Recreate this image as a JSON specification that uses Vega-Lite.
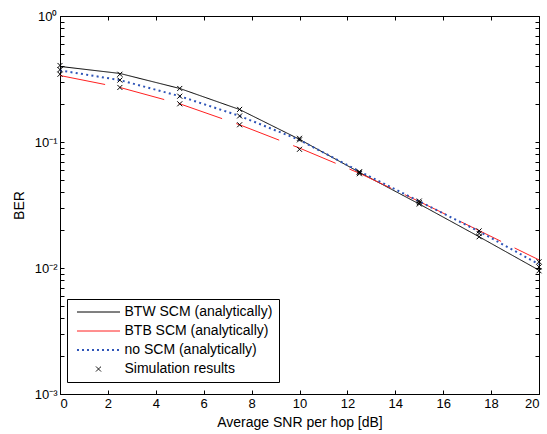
{
  "$schema": "https://vega.github.io/schema/vega-lite/v6.json",
  "width": 479,
  "height": 378,
  "autosize": {"type": "none"},
  "padding": {"left": 60, "top": 16, "right": 8, "bottom": 40},
  "background": "white",
  "config": {
    "view": {"stroke": "black", "strokeWidth": 1},
    "font": "Liberation Sans",
    "axis": {
      "domainColor": "black",
      "tickColor": "black",
      "labelColor": "black",
      "titleColor": "black",
      "labelFont": "Liberation Sans",
      "titleFont": "Liberation Sans",
      "labelFontSize": 13,
      "titleFontSize": 14,
      "titleFontWeight": "normal",
      "grid": false,
      "tickSize": -4,
      "labelPadding": 7
    }
  },
  "datasets": {
    "analytic": [
      {"series": "BTW SCM (analytically)", "snr": 0, "ber": 0.398},
      {"series": "BTW SCM (analytically)", "snr": 2.5, "ber": 0.350},
      {"series": "BTW SCM (analytically)", "snr": 5, "ber": 0.266},
      {"series": "BTW SCM (analytically)", "snr": 7.5, "ber": 0.181},
      {"series": "BTW SCM (analytically)", "snr": 10, "ber": 0.105},
      {"series": "BTW SCM (analytically)", "snr": 12.5, "ber": 0.0575},
      {"series": "BTW SCM (analytically)", "snr": 15, "ber": 0.0322},
      {"series": "BTW SCM (analytically)", "snr": 17.5, "ber": 0.0177},
      {"series": "BTW SCM (analytically)", "snr": 20, "ber": 0.0096},
      {"series": "BTB SCM (analytically)", "snr": 0, "ber": 0.337},
      {"series": "BTB SCM (analytically)", "snr": 2.5, "ber": 0.271},
      {"series": "BTB SCM (analytically)", "snr": 5, "ber": 0.201},
      {"series": "BTB SCM (analytically)", "snr": 7.5, "ber": 0.137},
      {"series": "BTB SCM (analytically)", "snr": 10, "ber": 0.0895},
      {"series": "BTB SCM (analytically)", "snr": 12.5, "ber": 0.0565},
      {"series": "BTB SCM (analytically)", "snr": 15, "ber": 0.0337},
      {"series": "BTB SCM (analytically)", "snr": 17.5, "ber": 0.0198},
      {"series": "BTB SCM (analytically)", "snr": 20, "ber": 0.0116},
      {"series": "no SCM (analytically)", "snr": 0, "ber": 0.370},
      {"series": "no SCM (analytically)", "snr": 2.5, "ber": 0.310},
      {"series": "no SCM (analytically)", "snr": 5, "ber": 0.231},
      {"series": "no SCM (analytically)", "snr": 7.5, "ber": 0.161},
      {"series": "no SCM (analytically)", "snr": 10, "ber": 0.1037},
      {"series": "no SCM (analytically)", "snr": 12.5, "ber": 0.0585},
      {"series": "no SCM (analytically)", "snr": 15, "ber": 0.0338},
      {"series": "no SCM (analytically)", "snr": 17.5, "ber": 0.0195},
      {"series": "no SCM (analytically)", "snr": 20, "ber": 0.0107}
    ],
    "sim": [
      {"series": "Simulation results", "snr": 0, "ber": 0.405},
      {"series": "Simulation results", "snr": 0, "ber": 0.375},
      {"series": "Simulation results", "snr": 0, "ber": 0.345},
      {"series": "Simulation results", "snr": 2.5, "ber": 0.345},
      {"series": "Simulation results", "snr": 2.5, "ber": 0.310},
      {"series": "Simulation results", "snr": 2.5, "ber": 0.271},
      {"series": "Simulation results", "snr": 5, "ber": 0.266},
      {"series": "Simulation results", "snr": 5, "ber": 0.231},
      {"series": "Simulation results", "snr": 5, "ber": 0.201},
      {"series": "Simulation results", "snr": 7.5, "ber": 0.1815},
      {"series": "Simulation results", "snr": 7.5, "ber": 0.161},
      {"series": "Simulation results", "snr": 7.5, "ber": 0.137},
      {"series": "Simulation results", "snr": 10, "ber": 0.107},
      {"series": "Simulation results", "snr": 10, "ber": 0.104},
      {"series": "Simulation results", "snr": 10, "ber": 0.0875},
      {"series": "Simulation results", "snr": 12.5, "ber": 0.058},
      {"series": "Simulation results", "snr": 12.5, "ber": 0.0575},
      {"series": "Simulation results", "snr": 12.5, "ber": 0.056},
      {"series": "Simulation results", "snr": 15, "ber": 0.034},
      {"series": "Simulation results", "snr": 15, "ber": 0.033},
      {"series": "Simulation results", "snr": 15, "ber": 0.0322},
      {"series": "Simulation results", "snr": 17.5, "ber": 0.0197},
      {"series": "Simulation results", "snr": 17.5, "ber": 0.0188},
      {"series": "Simulation results", "snr": 17.5, "ber": 0.0177},
      {"series": "Simulation results", "snr": 20, "ber": 0.0112},
      {"series": "Simulation results", "snr": 20, "ber": 0.0102},
      {"series": "Simulation results", "snr": 20, "ber": 0.0095}
    ]
  },
  "layer": [
    {
      "data": {"name": "analytic"},
      "transform": [{"filter": "datum.series !== 'no SCM (analytically)'"}],
      "mark": {"type": "line", "strokeWidth": 1},
      "encoding": {
        "x": {
          "field": "snr", "type": "quantitative",
          "scale": {"domain": [0, 20], "nice": false, "zero": false},
          "axis": {"orient": "bottom", "values": [0, 2, 4, 6, 8, 10, 12, 14, 16, 18, 20], "title": "Average SNR per hop [dB]", "titlePadding": 5}
        },
        "y": {
          "field": "ber", "type": "quantitative",
          "scale": {"type": "log", "domain": [0.001, 1], "nice": false},
          "axis": {
            "orient": "left",
            "values": [0.001, 0.002, 0.003, 0.004, 0.005, 0.006, 0.007, 0.008, 0.009, 0.01, 0.02, 0.03, 0.04, 0.05, 0.06, 0.07, 0.08, 0.09, 0.1, 0.2, 0.3, 0.4, 0.5, 0.6, 0.7, 0.8, 0.9, 1],
            "labelExpr": "datum.value === 1 ? '10⁰' : datum.value === 0.1 ? '10⁻¹' : datum.value === 0.01 ? '10⁻²' : datum.value === 0.001 ? '10⁻³' : ''",
            "labelOverlap": false,
            "title": "BER",
            "titlePadding": 8
          }
        },
        "color": {
          "field": "series", "type": "nominal",
          "scale": {
            "domain": ["BTW SCM (analytically)", "BTB SCM (analytically)", "no SCM (analytically)", "Simulation results"],
            "range": ["#000000", "#ff2020", "#2f55b8", "#000000"]
          },
          "legend": {
            "title": null,
            "orient": "none",
            "legendX": 7,
            "legendY": 283,
            "strokeColor": "black",
            "fillColor": "white",
            "padding": 6,
            "labelFont": "Liberation Sans",
            "labelFontSize": 14,
            "labelColor": "black",
            "labelOffset": 19,
            "symbolOffset": 18.5,
            "rowPadding": 5,
            "symbolType": "stroke",
            "symbolStrokeWidth": 1,
            "encode": {
              "symbols": {
                "update": {
                  "shape": {"signal": "datum.value === 'Simulation results' ? 'M-1,-1L1,1M1,-1L-1,1' : 'stroke'"},
                  "size": {"signal": "datum.value === 'Simulation results' ? 25 : 1850"},
                  "strokeWidth": {"signal": "datum.value === 'no SCM (analytically)' ? 2 : 1"},
                  "strokeDash": {"signal": "datum.value === 'no SCM (analytically)' ? [2, 3] : [1, 0]"},
                  "fill": {"value": "transparent"}
                }
              }
            }
          }
        },
        "strokeDash": {
          "field": "series", "type": "nominal",
          "scale": {
            "domain": ["BTW SCM (analytically)", "BTB SCM (analytically)"],
            "range": [[1, 0], [46, 15]]
          },
          "legend": null
        }
      }
    },
    {
      "data": {"name": "analytic"},
      "transform": [{"filter": "datum.series === 'no SCM (analytically)'"}],
      "mark": {"type": "line", "strokeWidth": 2, "strokeDash": [2, 3.3]},
      "encoding": {
        "x": {"field": "snr", "type": "quantitative", "axis": null},
        "y": {"field": "ber", "type": "quantitative", "axis": null},
        "color": {"field": "series", "type": "nominal"}
      }
    },
    {
      "data": {"name": "sim"},
      "mark": {"type": "point", "shape": "M-1,-1L1,1M1,-1L-1,1", "filled": false, "size": 25, "strokeWidth": 1, "opacity": 1},
      "encoding": {
        "x": {
          "field": "snr", "type": "quantitative",
          "axis": {"orient": "top", "values": [0, 2, 4, 6, 8, 10, 12, 14, 16, 18, 20], "labels": false, "title": null, "domain": false}
        },
        "y": {
          "field": "ber", "type": "quantitative",
          "axis": {
            "orient": "right",
            "values": [0.001, 0.002, 0.003, 0.004, 0.005, 0.006, 0.007, 0.008, 0.009, 0.01, 0.02, 0.03, 0.04, 0.05, 0.06, 0.07, 0.08, 0.09, 0.1, 0.2, 0.3, 0.4, 0.5, 0.6, 0.7, 0.8, 0.9, 1],
            "labels": false, "title": null, "domain": false
          }
        },
        "color": {"field": "series", "type": "nominal"}
      }
    }
  ],
  "resolve": {"axis": {"x": "independent", "y": "independent"}}
}
